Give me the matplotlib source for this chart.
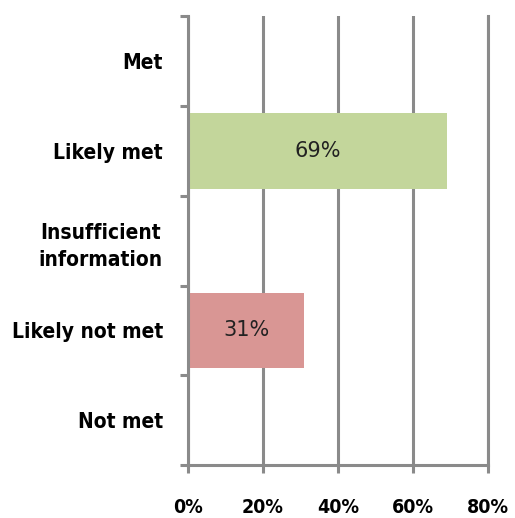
import matplotlib
matplotlib.use('Agg')
import matplotlib.pyplot as plt
import numpy as np

categories = ['Met', 'Likely met', 'Insufficient\ninformation', 'Likely not met', 'Not met']
values = [0, 69, 0, 31, 0]
colors = ['#c3d69b', '#c3d69b', '#c3d69b', '#d99694', '#d99694']
xticks = [0, 20, 40, 60, 80]

grey = '#8a8a8a'

fig = plt.figure(figsize=(5.15, 5.18), dpi=100)
ax = fig.add_axes([0.365, 0.102, 0.583, 0.867])

y = np.arange(len(categories))
bars = ax.barh(y, values, height=0.84, color=colors, zorder=2)
for b, v in zip(bars, values):
    if v > 0:
        ax.text(v / 2, b.get_y() + b.get_height() / 2, '%d%%' % v,
                ha='center', va='center', fontsize=15, color='#222222',
                family='DejaVu Sans', zorder=3)

ax.set_ylim(len(categories) - 0.5, -0.5)
ax.set_xlim(0, 80)

ax.set_xticks(xticks)
ax.set_xticklabels(['%d%%' % t for t in xticks], fontsize=14, fontweight='bold',
                   fontstretch='condensed')
ax.set_yticks(y)
ax.set_yticklabels(categories, fontsize=15, fontweight='bold', ha='right',
                   multialignment='center', fontstretch='condensed',
                   linespacing=1.45)
ax.set_yticks(np.arange(-0.5, len(categories)), minor=True)

ax.tick_params(axis='y', which='major', length=0, pad=18)
ax.tick_params(axis='y', which='minor', length=6, width=2.2, color=grey)
ax.tick_params(axis='x', which='major', length=6, width=2.2, color=grey, pad=18)

ax.grid(axis='x', color=grey, linewidth=2.2, zorder=0)
ax.set_axisbelow(True)
for s in ['top']:
    ax.spines[s].set_visible(False)
for s in ['left', 'bottom', 'right']:
    ax.spines[s].set_color(grey)
    ax.spines[s].set_linewidth(2.2)

fig.savefig('out.png', dpi=100)
